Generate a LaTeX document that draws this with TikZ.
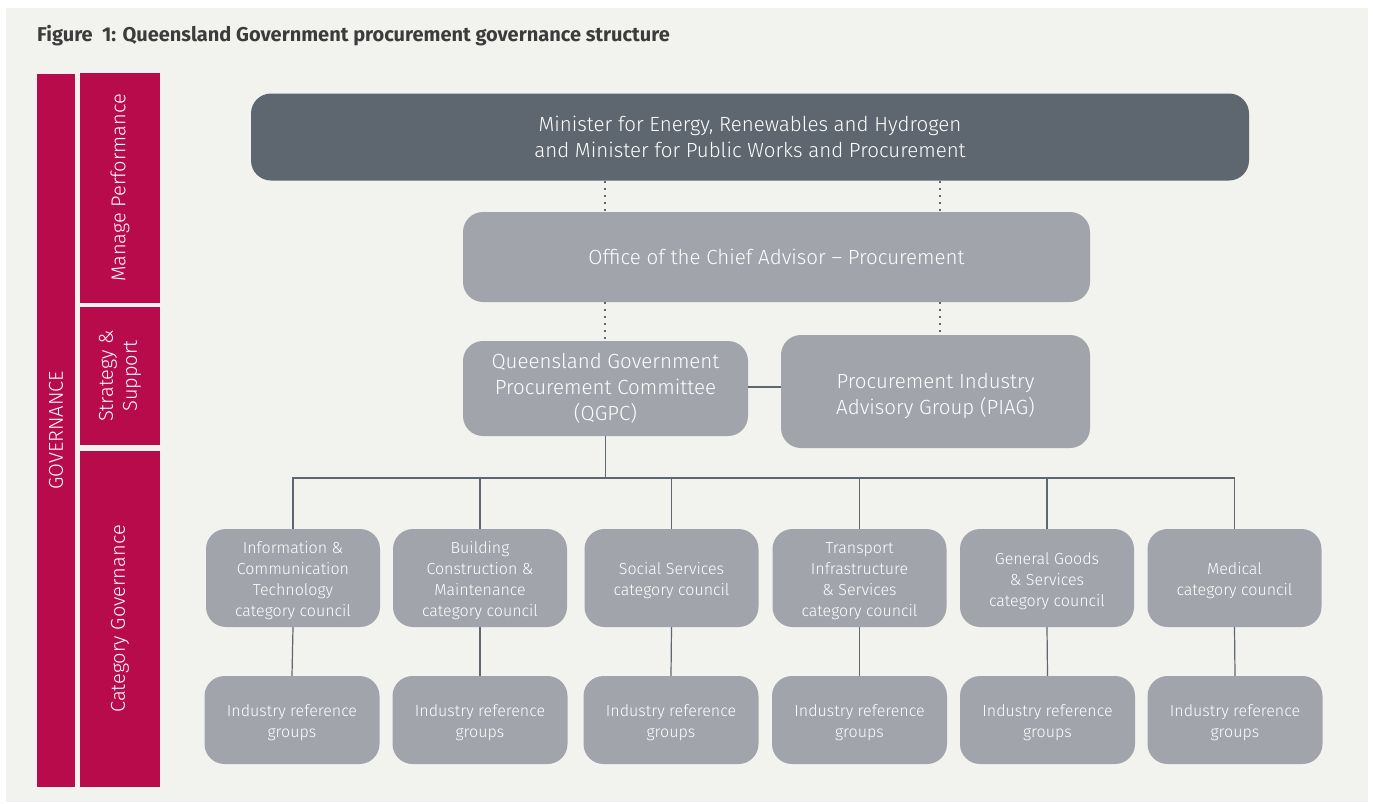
\documentclass[tikz,border=0pt]{standalone}
\usepackage{fontspec}
\setmainfont{Fira Sans}
\newfontfamily\lightf{Fira Sans Light}
\definecolor{bgc}{HTML}{F2F2EE}
\definecolor{mag}{HTML}{B80B4B}
\definecolor{slate}{HTML}{5E6770}
\definecolor{boxg}{HTML}{A1A4AB}
\definecolor{linec}{HTML}{5F6770}
\definecolor{titlec}{HTML}{3C3C3C}
\tikzset{
  bar/.style={fill=mag, text=white, inner sep=0pt, rotate=90, align=center},
  boxbase/.style={rounded corners=20pt, text=white, inner sep=0pt, align=center},
  topbox/.style={boxbase, fill=slate, font={\lightf\fontsize{20.5}{26}\selectfont}},
  midbox/.style={boxbase, fill=boxg, font={\lightf\fontsize{20.5}{26}\selectfont}},
  bigtext/.style={text=white, inner sep=0pt, align=center, font={\lightf\fontsize{20.5}{26}\selectfont}},
  smalltext/.style={text=white, inner sep=0pt, align=center, yshift=-3pt, font={\lightf\fontsize{16}{21}\selectfont}},
  catbox/.style={boxbase, fill=boxg, minimum width=174pt, minimum height=98pt},
  refbox/.style={boxbase, fill=boxg, minimum width=175pt, minimum height=88pt},
  conn/.style={draw=linec, line width=1.2pt},
  dotconn/.style={draw=linec, line width=2pt, dash pattern=on 2pt off 5pt}
}
\newcommand\catnode[4]{\node[#1, label={[smalltext]center:{#4}}] (#2) at (#3) {};}
\begin{document}
\begin{tikzpicture}[x=1pt,y=-1pt]
\useasboundingbox (0,0) rectangle (1373,803);
\fill[white] (0,0) rectangle (1373,803);
\fill[bgc] (6,8) rectangle (1368,802);
% title
\node[anchor=west, inner sep=0pt, text=titlec, font={\bfseries\fontsize{20}{24}\selectfont}] (title) at (37,36) {Figure~~1: Queensland Government procurement governance structure};
% side bars
\node[bar, minimum width=713pt, minimum height=38pt, font={\lightf\fontsize{20}{22}\selectfont}] (gov) at (56,430.5) {GOVERNANCE};
\node[bar, minimum width=230pt, minimum height=80pt, font={\lightf\fontsize{20}{24}\selectfont}] (manage) at (120,188) {Manage Performance};
\node[bar, minimum width=138pt, minimum height=80pt, font={\lightf\fontsize{20}{24}\selectfont}] (strat) at (120,376) {Strategy \&\\Support};
\node[bar, minimum width=336pt, minimum height=80pt, font={\lightf\fontsize{20}{24}\selectfont}] (catgov) at (120,619) {Category Governance};
% top boxes
\node[topbox, minimum width=998pt, minimum height=87pt] (minister) at (750,137) {Minister for Energy, Renewables and Hydrogen\\and Minister for Public Works and Procurement};
\node[midbox, minimum width=627pt, minimum height=90pt] (office) at (776.5,257) {Office of the Chief Advisor – Procurement};
\node[midbox, minimum width=285pt, minimum height=95pt] (qgpc) at (605.5,388.5) {Queensland Government\\Procurement Committee\\(QGPC)};
\node[midbox, minimum width=309pt, minimum height=113pt, label={[bigtext, yshift=-4pt]center:{Procurement Industry\\Advisory Group (PIAG)}}] (piag) at (935.5,391.5) {};
% category councils
\catnode{catbox}{c1}{293,578}{Information \&\\Communication\\Technology\\category council}
\catnode{catbox}{c2}{480,578}{Building\\Construction \&\\Maintenance\\category council}
\catnode{catbox}{c3}{671.5,578}{Social Services\\category council}
\catnode{catbox}{c4}{859.5,578}{Transport\\Infrastructure\\\& Services\\category council}
\catnode{catbox}{c5}{1047,578}{General Goods\\\& Services\\category council}
\catnode{catbox}{c6}{1234.5,578}{Medical\\category council}
% reference groups
\catnode{refbox}{r1}{292,720}{Industry reference\\groups}
\catnode{refbox}{r2}{480,720}{Industry reference\\groups}
\catnode{refbox}{r3}{671,720}{Industry reference\\groups}
\catnode{refbox}{r4}{859.5,720}{Industry reference\\groups}
\catnode{refbox}{r5}{1047.5,720}{Industry reference\\groups}
\catnode{refbox}{r6}{1235,720}{Industry reference\\groups}
% connectors
\coordinate (dl) at (605,0);
\coordinate (dr) at (940,0);
\coordinate (bus) at (0,478);
\draw[dotconn] (minister.south -| dl) -- (office.north -| dl);
\draw[dotconn] (minister.south -| dr) -- (office.north -| dr);
\draw[dotconn] (office.south -| dl) -- (qgpc.north -| dl);
\draw[dotconn] (office.south -| dr) -- (piag.north -| dr);
\coordinate (hq) at (0,387);
\draw[conn] (qgpc.east |- hq) -- (piag.west |- hq);
\draw[conn] (qgpc.south) -- (qgpc.south |- bus);
\draw[conn] (c1.north) -- (c1.north |- bus) -- (c6.north |- bus) -- (c6.north);
\foreach \i in {2,3,4,5} { \draw[conn] (c\i.north) -- (c\i.north |- bus); }
\foreach \i in {1,...,6} { \draw[conn] (c\i.south) -- (r\i.north); }
\end{tikzpicture}
\end{document}
